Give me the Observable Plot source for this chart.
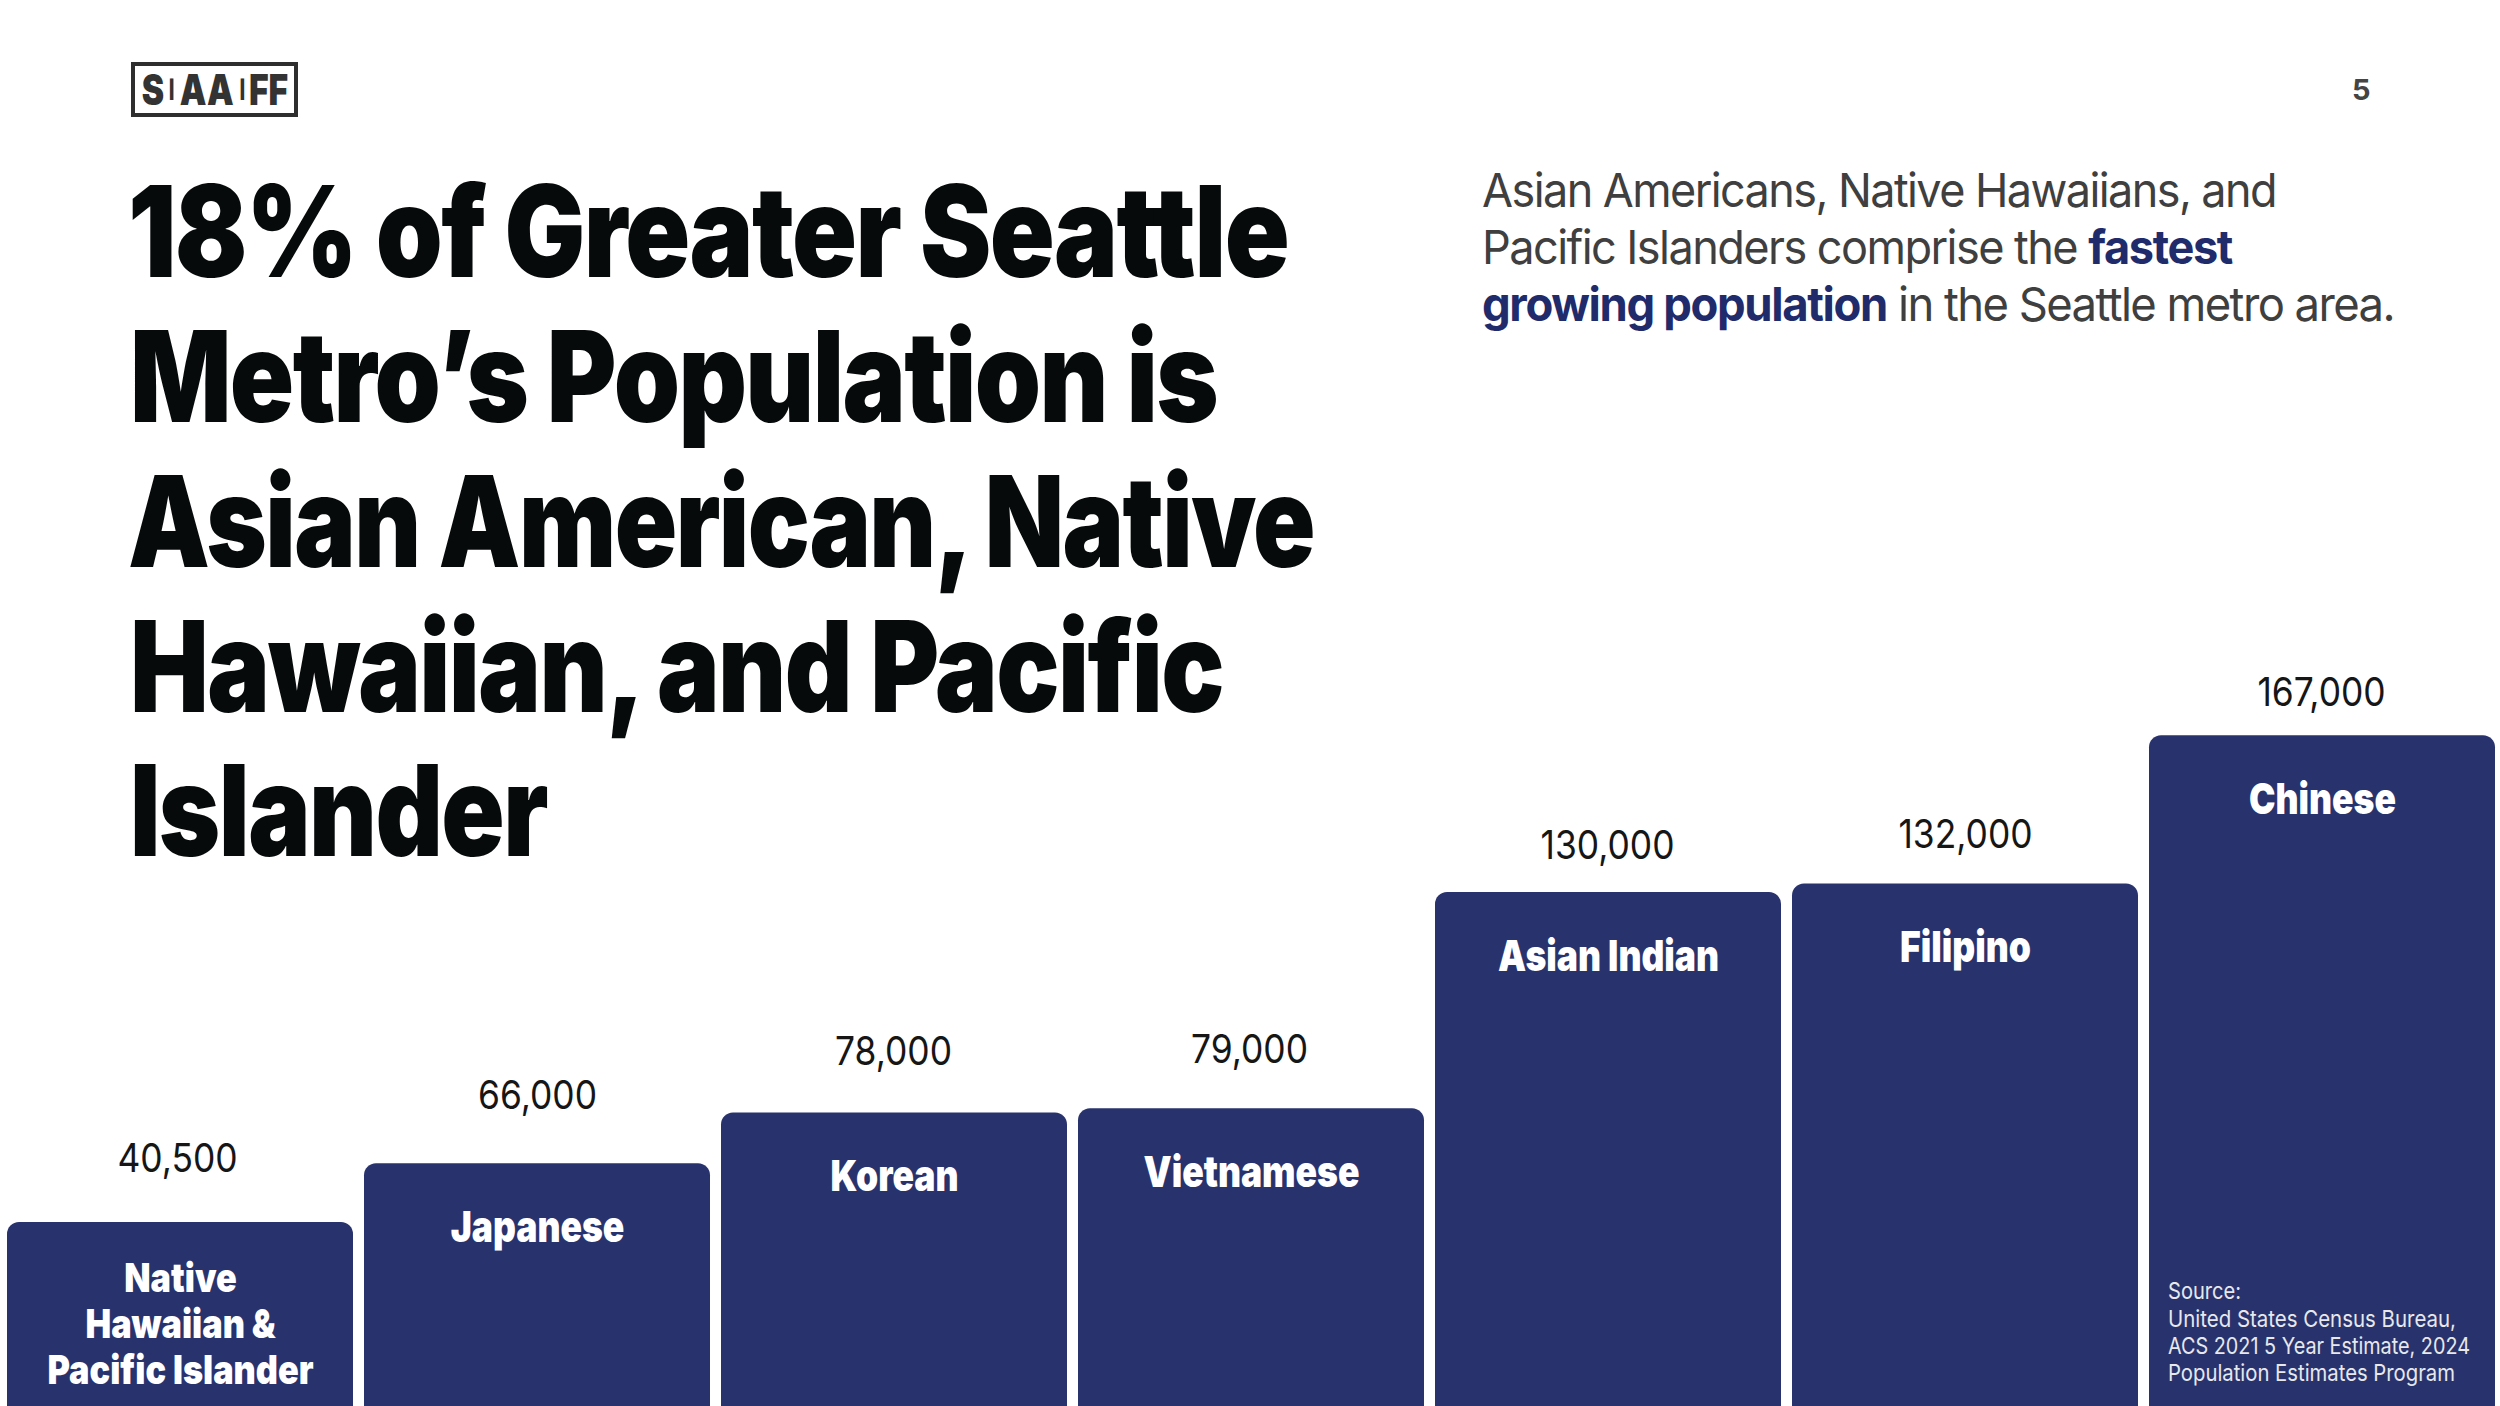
<!DOCTYPE html>
<html><head><meta charset="utf-8">
<script src="https://cdn.jsdelivr.net/npm/d3@7"></script>
<script src="https://cdn.jsdelivr.net/npm/@observablehq/plot@0.6"></script>
<style>
html,body{margin:0;padding:0;background:#fff;width:2500px;height:1406px;overflow:hidden;font-family:Inter,sans-serif}
#chart{position:absolute;left:0;top:0}
.ln{position:absolute;white-space:pre;line-height:1;transform-origin:0 0;display:inline-block}
.title{font-weight:900;font-size:127px;color:#060a0a;letter-spacing:-.015em}
.sub{font-weight:400;font-size:47px;color:#3f3f3f;letter-spacing:-.035em}
.sub b{font-weight:700;color:#1f2b6b;letter-spacing:-.03em}
.src{font-weight:400;font-size:23px;color:#e8e8ea}
.pg{font-weight:700;font-size:29px;color:#444}
#logo{position:absolute;left:131px;top:62px;width:167px;height:55px;box-sizing:border-box;border:4px solid #2e2e2e;display:flex;align-items:center;justify-content:center;font-weight:900;font-size:42px;color:#333;line-height:1}
#logo span{display:inline-block;transform:scaleX(.8)}
#logo .t{font-size:18px;transform:none;margin:0 1px}
#logo .a{margin:0 -3px}
</style></head><body>
<div id="chart"></div>
<div id="logo"><span>S</span><span class="t">|</span><span class="a">AA</span><span class="t">|</span><span class="a">FF</span></div>
<script>
const categories = ["Native\nHawaiian &\nPacific Islander","Japanese","Korean","Vietnamese","Asian Indian","Filipino","Chinese"];
const valueLabels = ["40,500","66,000","78,000","79,000","130,000","132,000","167,000"];
// Bar heights as drawn in the picture (the first bar is drawn taller than its printed value).
const barHeights = [52150,66000,78000,79000,130000,132000,167000];

const titleLines = ["18% of Greater Seattle","Metro\u2019s Population is","Asian American, Native","Hawaiian, and Pacific","Islander"];
const subLines = ["Asian Americans, Native Hawaiians, and","Pacific Islanders comprise the <b>fastest</b>","<b>growing population</b> in the Seattle metro area."];
const sourceLines = ["Source:","United States Census Bureau,","ACS 2021 5 Year Estimate, 2024","Population Estimates Program"];

// layout
const labelGaps = [50,55,47.5,46,34,36,30];
const labelShift = [-3,0,-1,-2,-1,0,-1];
const titleLayout = {x:[128,130,128,130,130], base:[277,422,567,712,856], w:[1160,1087,1186,1093,417]};
const subLayout = {x:1482, base:[207,264,321], w:[794,750,912]};
const srcLayout = {x:2168, base:[1299,1327,1354,1381], w:[73,288,302,287]};

const rows = categories.map((c,i)=>({c,h:barHeights[i],label:valueLabels[i],gap:labelGaps[i],shift:labelShift[i]}));
const nativeOnly = rows.slice(0,1), others = rows.slice(1);

const plot = Plot.plot({
  width:2500,height:1406,marginLeft:4.5,marginRight:3.5,marginTop:0,marginBottom:0,
  x:{type:"band",domain:categories,paddingInner:0.032,paddingOuter:0,axis:null},
  y:{domain:[8730,340491],axis:null},
  marks:[
    Plot.barY(rows,{x:"c",y1:0,y2:"h",fill:"#28336e",rx:12}),
    ...rows.map(r=>Plot.text([r],{x:"c",y:"h",text:"label",dx:r.shift,dy:-r.gap,className:"val",lineAnchor:"bottom",fontSize:40,fontWeight:400,fill:"#161616",fontFamily:"Inter"})),
    Plot.text(others,{x:"c",y:"h",text:"c",dy:78,className:"cat",lineAnchor:"bottom",fontSize:43,fontWeight:900,fill:"#fff",fontFamily:"Inter"}),
    Plot.text(nativeOnly,{x:"c",y:"h",text:"c",dy:37.5,className:"nat",lineAnchor:"top",lineHeight:1.14,fontSize:40,fontWeight:900,fill:"#fff",fontFamily:"Inter"})
  ]
});
document.getElementById("chart").append(plot);

function condense(cls,k){
  plot.querySelectorAll("g."+cls+" text, ."+cls+" text").forEach(t=>{
    const tr=t.getAttribute("transform")||"";
    t.setAttribute("transform",tr+` scale(${k},1)`);
  });
}
condense("val",.885);
condense("cat",.825);
condense("nat",.857);

function place(cls,html,x,base,w){
  const d=document.createElement("div");
  d.className="ln "+cls; d.innerHTML=html; d.style.left=x+"px"; d.style.top="0px";
  const m=document.createElement("span");
  m.style.cssText="display:inline-block;width:0;height:0";
  d.append(m); document.body.append(d);
  const b=m.getBoundingClientRect().bottom;
  d.style.top=(base-b)+"px";
  m.remove();
  if(w){const mw=d.getBoundingClientRect().width; d.style.transform=`scaleX(${w/mw})`;}
}
titleLines.forEach((t,i)=>place("title",t,titleLayout.x[i],titleLayout.base[i],titleLayout.w[i]));
subLines.forEach((t,i)=>place("sub",t,subLayout.x,subLayout.base[i],subLayout.w[i]));
sourceLines.forEach((t,i)=>place("src",t,srcLayout.x,srcLayout.base[i],srcLayout.w[i]));
place("pg","5",2352,100,null);
</script>
</body></html>
